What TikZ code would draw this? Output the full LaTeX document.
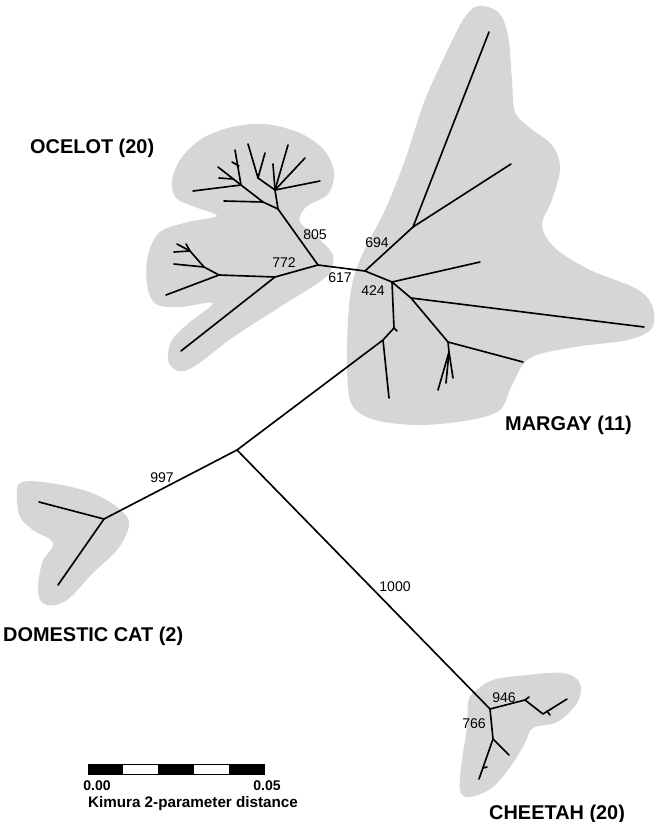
\documentclass[tikz,border=0pt]{standalone}
\usepackage{fontspec}
\setmainfont{Liberation Sans}
\usetikzlibrary{positioning}
\definecolor{stipplegray}{RGB}{214,214,214}

\begin{document}
\begin{tikzpicture}[x=0.3mm, y=-0.3mm,
        branch/.style={line width=1.4pt, line cap=round, line join=round},
        blob/.style={fill=stipplegray, draw=none},
        support/.style={font=\fontsize{12}{12}\selectfont, inner sep=0pt},
        clade/.style={font=\fontsize{17}{17}\selectfont\bfseries, inner sep=0pt, anchor=base west},
        scaletext/.style={font=\fontsize{12}{12}\selectfont\bfseries, inner sep=0pt}]
        \useasboundingbox (0,0) rectangle (655,822);

        % Shaded clades
        \fill[blob] plot[smooth cycle, tension=0.55] coordinates {(217,216) (195,207) (176,198) (172,180) (182,157) (203,138) (232,127) (265,124) (300,133) (324,150) (334,172) (328,194) (306,207) (300,222) (318,238) (333,255) (330,272) (318,283) (280,307) (232,338) (195,366) (178,371) (168,360) (172,340) (190,322) (213,303) (180,307) (156,304) (147,285) (148,255) (160,232) (188,222)};
        \fill[blob] plot[smooth cycle, tension=0.55] coordinates {(478,6) (498,12) (508,35) (512,80) (515,112) (530,128) (552,145) (560,168) (552,200) (542,225) (555,248) (590,270) (635,288) (652,305) (652,328) (628,340) (575,347) (530,358) (512,385) (500,410) (470,420) (420,425) (375,420) (352,405) (347,370) (348,320) (352,285) (362,255) (385,210) (405,160) (425,100) (450,45) (465,17)};
        \fill[blob] plot[smooth cycle, tension=0.6] coordinates {(20,483) (43,482) (83,490) (110,502) (127,517) (128,530) (117,550) (93,573) (67,600) (47,605) (38,593) (42,563) (53,543) (33,530) (20,517) (17,497)};
        \fill[blob] plot[smooth cycle, tension=0.6] coordinates {(473,693) (493,680) (527,675) (563,673) (580,683) (577,703) (557,722) (533,728) (525,743) (513,763) (493,787) (470,797) (460,790) (462,760) (467,727) (468,703)};

        % Internal nodes
        \coordinate (center) at (237,450);
        \coordinate (oc617) at (318,265);
        \coordinate (mgroot) at (365,271);
        \coordinate (oc805) at (278,209);
        \coordinate (oc772) at (275,277);
        \coordinate (mg694) at (413,227);
        \coordinate (mg424) at (392,282);
        \coordinate (mgfork) at (411,298);
        \coordinate (mgsub) at (448,342);
        \coordinate (mgtrio) at (449,352);
        \coordinate (mgdown) at (394,328);
        \coordinate (mglow) at (383,340);
        \coordinate (dcroot) at (104,519);
        \coordinate (chroot) at (490,709);
        \coordinate (ch946) at (525,700);
        \coordinate (chtip) at (543,714);
        \coordinate (ch766) at (493,739);
        \coordinate (ocleft) at (219,275);
        \coordinate (ocmid) at (204,267);
        \coordinate (octop) at (190,251);
        \coordinate (ocfan) at (275,190);
        \coordinate (ocpair) at (258,178);
        \coordinate (ocdiag) at (263,202);
        \coordinate (ocknee) at (241,185);

        % Backbone
        \draw[branch] (oc617) -- (mgroot);
        \draw[branch] (mglow) -- (center);
        \draw[branch] (center) -- (dcroot);
        \draw[branch] (center) -- (chroot);

        % Margay
        \draw[branch] (mgroot) -- (mg694) -- (489,32);
        \draw[branch] (mg694) -- (511,164);
        \draw[branch] (mgroot) -- (mg424) -- (480,262);
        \draw[branch] (mg424) -- (mgfork) -- (644,327);
        \draw[branch] (mgfork) -- (mgsub) -- (523,362);
        \draw[branch] (mgsub) -- (mgtrio) -- (438,390);
        \draw[branch] (mgtrio) -- (446,383);
        \draw[branch] (mgtrio) -- (453,378);
        \draw[branch] (mg424) -- (mgdown) -- (397,331);
        \draw[branch] (mgdown) -- (mglow) -- (389,398);

        % Ocelot
        \draw[branch] (oc617) -- (oc805);
        \draw[branch] (oc617) -- (oc772) -- (181,351);
        \draw[branch] (oc772) -- (ocleft) -- (166,295);
        \draw[branch] (ocleft) -- (ocmid) -- (174,264);
        \draw[branch] (ocmid) -- (octop) -- (174,252);
        \draw[branch] (octop) -- (177,244);
        \draw[branch] (octop) -- (186,244);
        \draw[branch] (oc805) -- (ocfan) -- (273,164);
        \draw[branch] (ocfan) -- (288,145);
        \draw[branch] (ocfan) -- (305,158);
        \draw[branch] (ocfan) -- (320,181);
        \draw[branch] (ocfan) -- (ocpair) -- (248,144);
        \draw[branch] (ocpair) -- (265,153);
        \draw[branch] (oc805) -- (ocdiag) -- (224,201);
        \draw[branch] (ocdiag) -- (ocknee) -- (193,191);
        \draw[branch] (ocknee) -- (235,150);
        \draw[branch] (ocknee) -- (218,167);
        \draw[branch] (239,166) -- (232,162);
        \draw[branch] (233,179) -- (219,178);

        % Domestic cat
        \draw[branch] (dcroot) -- (39,502);
        \draw[branch] (dcroot) -- (58,585);

        % Cheetah
        \draw[branch] (chroot) -- (ch946) -- (chtip) -- (567,699);
        \draw[branch] (ch946) -- (529,697);
        \draw[branch] (547,711) -- (550,715);
        \draw[branch] (chroot) -- (ch766) -- (509,755);
        \draw[branch] (ch766) -- (479,779);
        \draw[branch] (483,768) -- (487,767);

        % Bootstrap support
        \node[support] (s805) at (315,235) {805};
        \node[support] (s772) at (284,263) {772};
        \node[support] (s617) at (340,278) {617};
        \node[support] (s694) at (377,243) {694};
        \node[support] (s424) at (373,291) {424};
        \node[support] (s997) at (162,478) {997};
        \node[support] (s1000) at (395,587) {1000};
        \node[support] (s946) at (504,698) {946};
        \node[support] (s766) at (474,724) {766};

        % Clade names
        \node[clade] (ocelot) at (30,153) {OCELOT (20)};
        \node[clade] (margay) at (505,430) {MARGAY (11)};
        \node[clade] (domestic) at (3,641) {DOMESTIC CAT (2)};
        \node[clade] (cheetah) at (489,819) {CHEETAH (20)};

        % Scale bar
        \foreach \k in {0,2,4}
            \fill (88+35.2*\k,764) rectangle (88+35.2*\k+35.2,774);
        \draw[line width=0.6pt] (88,764) rectangle (264,774);
        \node[scaletext] (zero) at (97,786) {0.00};
        \node[scaletext] (five) at (267,786) {0.05};
        \node[scaletext, font=\fontsize{13}{13}\selectfont\bfseries] (kimura) at (193,804) {Kimura 2-parameter distance};
    \end{tikzpicture}
\end{document}
